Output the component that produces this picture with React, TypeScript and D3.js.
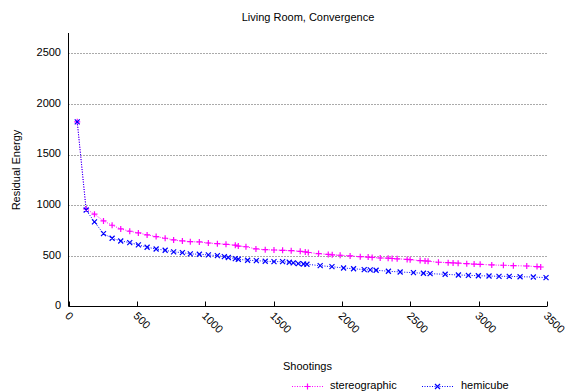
import React, { useEffect, useRef } from 'react';
import * as d3 from 'd3';

const W = 565;
const H = 392;

// stereographic: shootings / residual energy
const stereoX = [64, 129, 190, 256, 319, 382, 448, 511, 575, 641, 707, 769, 833, 891, 957, 1023, 1089, 1152, 1220, 1242,
  1298, 1371, 1439, 1503, 1566, 1629, 1695, 1732, 1754, 1829, 1900, 1929, 1987, 2060, 2134, 2192, 2221, 2280, 2338, 2367,
  2404, 2477, 2499, 2572, 2608, 2630, 2706, 2777, 2813, 2850, 2913, 2967, 3011, 3096, 3181, 3254, 3352, 3427, 3454];
const stereoY = [1823, 963, 911, 845, 802, 766, 743, 726, 707, 690, 674, 657, 647, 640, 637, 627, 620, 614, 605, 597,
  590, 568, 561, 558, 555, 551, 545, 539, 533, 522, 514, 510, 506, 499, 492, 488, 484, 479, 477, 474,
  471, 465, 462, 453, 450, 447, 437, 433, 430, 428, 423, 419, 416, 410, 407, 403, 400, 394, 390];

// hemicube
const hemiX = [64, 129, 190, 256, 319, 382, 448, 511, 575, 641, 707, 769, 833, 891, 957, 1023, 1089, 1140, 1169, 1220,
  1242, 1310, 1374, 1439, 1503, 1566, 1615, 1644, 1681, 1719, 1744, 1841, 1927, 2012, 2085, 2163, 2207, 2250, 2340, 2426,
  2523, 2596, 2645, 2755, 2852, 2925, 2998, 3076, 3149, 3224, 3303, 3400, 3493];
const hemiY = [1823, 953, 835, 719, 674, 647, 631, 608, 585, 568, 555, 539, 532, 519, 516, 509, 502, 492, 484, 472,
  466, 457, 453, 447, 443, 443, 437, 430, 424, 420, 417, 403, 393, 380, 373, 364, 361, 358, 348, 341,
  334, 328, 324, 318, 311, 308, 304, 301, 298, 298, 294, 291, 285];

const xTicks = [0, 500, 1000, 1500, 2000, 2500, 3000, 3500];
const yTicks = [0, 500, 1000, 1500, 2000, 2500];

const FONT = '"Liberation Sans", Arial, sans-serif';
const PINK = '#ff00ff';
const BLUE = '#0000ff';

function plusPath(cx: number, cy: number, r: number) {
  return `M${cx - r},${cy}H${cx + r}M${cx},${cy - r}V${cy + r}`;
}
function crossPath(cx: number, cy: number, r: number) {
  return `M${cx - r},${cy - r}L${cx + r},${cy + r}M${cx - r},${cy + r}L${cx + r},${cy - r}`;
}

function App() {
  const ref = useRef<SVGSVGElement>(null);

  useEffect(() => {
    const svg = d3.select(ref.current);
    svg.selectAll('*').remove();

    const x = d3.scaleLinear().domain([0, 3500]).range([68.5, 547]);
    const y = d3.scaleLinear().domain([0, 2700]).range([306.5, 33]);

    // grid
    svg.append('g')
      .selectAll('line')
      .data(yTicks.filter(d => d > 0))
      .join('line')
      .attr('x1', x(0)).attr('x2', x(3500))
      .attr('y1', d => Math.round(y(d)) + 0.5).attr('y2', d => Math.round(y(d)) + 0.5)
      .attr('stroke', '#555').attr('stroke-width', 1).attr('stroke-dasharray', '1,2');

    // axes lines
    svg.append('line')
      .attr('x1', x(0)).attr('x2', x(0)).attr('y1', y(2700)).attr('y2', y(0))
      .attr('stroke', '#000');
    svg.append('line')
      .attr('x1', x(0)).attr('x2', x(3500)).attr('y1', y(0)).attr('y2', y(0))
      .attr('stroke', '#000');

    // x ticks (inward)
    svg.append('g')
      .selectAll('line')
      .data(xTicks)
      .join('line')
      .attr('x1', d => Math.round(x(d)) + 0.5).attr('x2', d => Math.round(x(d)) + 0.5)
      .attr('y1', y(0)).attr('y2', y(0) - 5)
      .attr('stroke', '#000');

    svg.append('g')
      .selectAll('text')
      .data(xTicks)
      .join('text')
      .attr('transform', d => `translate(${x(d) - 2},${y(0) + 8}) rotate(45)`)
      .attr('font-family', FONT).attr('font-size', 11)
      .attr('dominant-baseline', 'middle')
      .text(d => d);

    // y tick labels
    svg.append('g')
      .selectAll('text')
      .data(yTicks)
      .join('text')
      .attr('x', 61).attr('y', d => y(d))
      .attr('text-anchor', 'end').attr('dominant-baseline', 'middle')
      .attr('font-family', FONT).attr('font-size', 11)
      .text(d => d);

    // titles
    svg.append('text')
      .attr('x', 308).attr('y', 18).attr('text-anchor', 'middle').attr('dominant-baseline', 'middle')
      .attr('font-family', FONT).attr('font-size', 11)
      .text('Living Room, Convergence');
    svg.append('text')
      .attr('transform', 'translate(17,170) rotate(-90)')
      .attr('text-anchor', 'middle').attr('dominant-baseline', 'middle')
      .attr('font-family', FONT).attr('font-size', 11)
      .text('Residual Energy');
    svg.append('text')
      .attr('x', 307.5).attr('y', 367).attr('text-anchor', 'middle').attr('dominant-baseline', 'middle')
      .attr('font-family', FONT).attr('font-size', 11)
      .text('Shootings');

    const line = d3.line<[number, number]>().x(d => x(d[0])).y(d => y(d[1]));

    const series = [
      { xs: stereoX, ys: stereoY, color: PINK, marker: plusPath, r: 3 },
      { xs: hemiX, ys: hemiY, color: BLUE, marker: crossPath, r: 2.5 },
    ];

    series.forEach(s => {
      const pts = s.xs.map((v, i) => [v, s.ys[i]] as [number, number]);
      svg.append('path')
        .attr('d', line(pts))
        .attr('fill', 'none').attr('stroke', s.color).attr('stroke-width', 1)
        .attr('stroke-dasharray', '1,1.5');
      svg.append('path')
        .attr('d', pts.map(p => s.marker(x(p[0]), y(p[1]), s.r)).join(''))
        .attr('fill', 'none').attr('stroke', s.color).attr('stroke-width', 1.2);
    });

    // legend
    const legend = [
      { label: 'stereographic', x0: 292, x1: 323, tx: 330, color: PINK, marker: plusPath, r: 3 },
      { label: 'hemicube', x0: 422, x1: 453, tx: 461, color: BLUE, marker: crossPath, r: 2.5 },
    ];
    const ly = 386.5;
    legend.forEach(l => {
      svg.append('line')
        .attr('x1', l.x0).attr('x2', l.x1).attr('y1', ly).attr('y2', ly)
        .attr('stroke', l.color).attr('stroke-dasharray', '1,1.5');
      svg.append('path')
        .attr('d', l.marker((l.x0 + l.x1) / 2, ly, l.r))
        .attr('fill', 'none').attr('stroke', l.color).attr('stroke-width', 1.2);
      svg.append('text')
        .attr('x', l.tx).attr('y', ly).attr('dominant-baseline', 'middle')
        .attr('font-family', FONT).attr('font-size', 11)
        .text(l.label);
    });
  }, []);

  return (
    <svg ref={ref} width={W} height={H}
      style={{ position: 'absolute', left: 0, top: 0, background: '#fff' }} />
  );
}

export default App;
